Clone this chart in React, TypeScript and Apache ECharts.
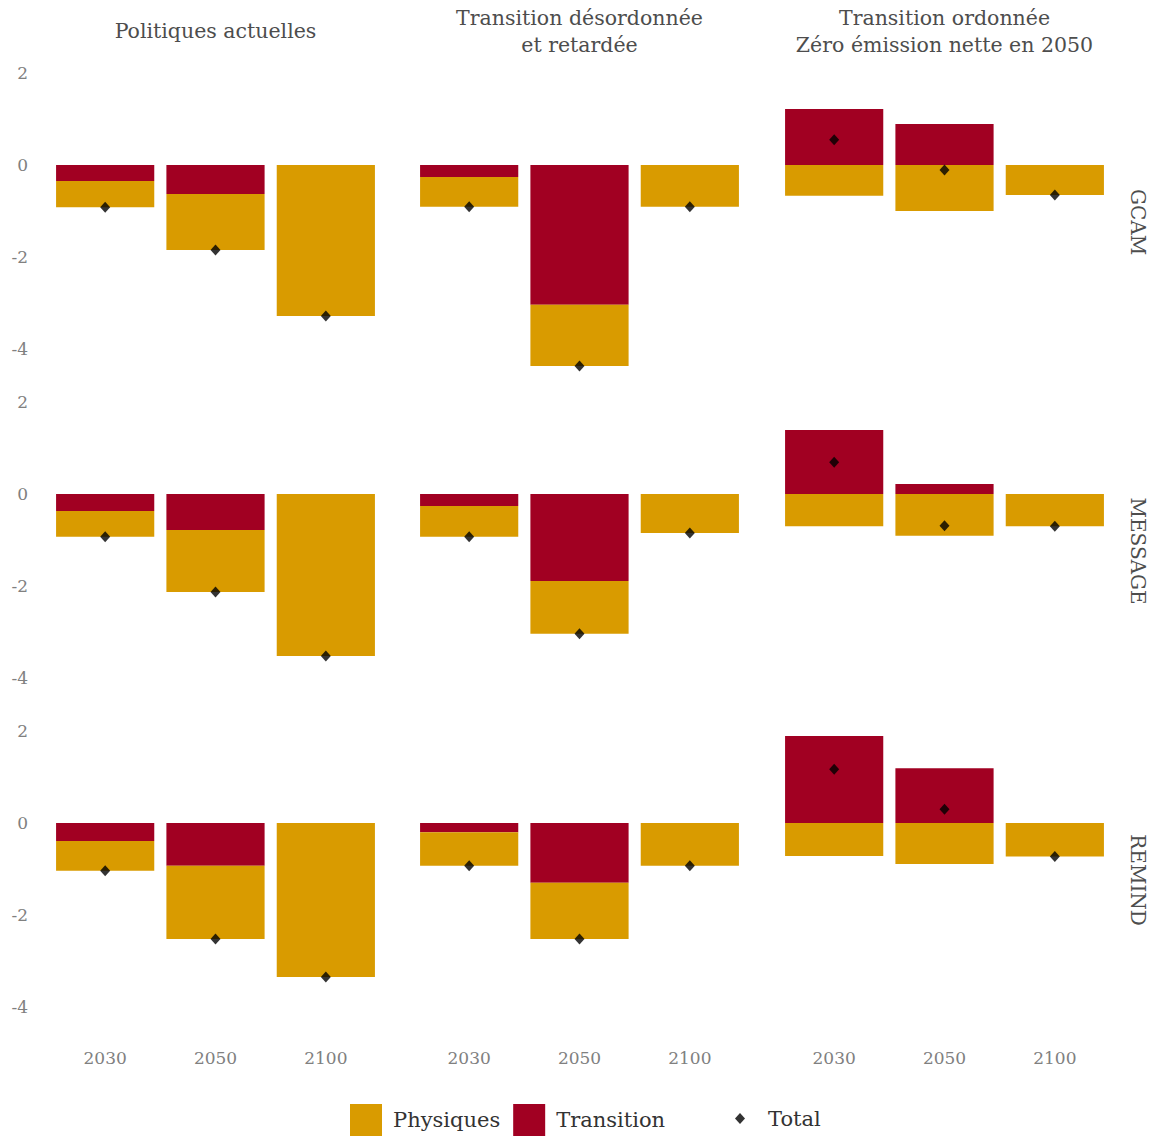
import React, { useEffect, useRef } from "react";
import * as echarts from "echarts";

// Facets: columns are scenarios, rows are models
const years = ["2030", "2050", "2100"];
const scenarios = [
  "Politiques actuelles",
  "Transition désordonnée\net retardée",
  "Transition ordonnée\nZéro émission nette en 2050",
];
const models = ["GCAM", "MESSAGE", "REMIND"];
const yTicks = [-4, -2, 0, 2];

// Transition-risk component, by model then scenario, per year
const transitionGCAM = [[-0.35, -0.63, 0], [-0.26, -3.04, 0], [1.22, 0.89, 0]];
const transitionMESSAGE = [[-0.37, -0.78, 0], [-0.26, -1.89, 0], [1.39, 0.22, 0]];
const transitionREMIND = [[-0.39, -0.93, 0], [-0.2, -1.3, 0], [1.89, 1.19, 0]];

// Physical-risk component
const physiquesGCAM = [[-0.57, -1.22, -3.28], [-0.65, -1.33, -0.91], [-0.67, -1.0, -0.65]];
const physiquesMESSAGE = [[-0.56, -1.35, -3.52], [-0.67, -1.15, -0.85], [-0.7, -0.91, -0.7]];
const physiquesREMIND = [[-0.65, -1.59, -3.35], [-0.73, -1.22, -0.93], [-0.72, -0.89, -0.73]];

// Total impact
const totalGCAM = [[-0.92, -1.85, -3.28], [-0.91, -4.37, -0.91], [0.55, -0.11, -0.65]];
const totalMESSAGE = [[-0.93, -2.13, -3.52], [-0.93, -3.04, -0.85], [0.69, -0.69, -0.7]];
const totalREMIND = [[-1.04, -2.52, -3.35], [-0.93, -2.52, -0.93], [1.17, 0.3, -0.73]];

const transitionByModel = [transitionGCAM, transitionMESSAGE, transitionREMIND];
const physiquesByModel = [physiquesGCAM, physiquesMESSAGE, physiquesREMIND];
const totalByModel = [totalGCAM, totalMESSAGE, totalREMIND];

const ORANGE = "#D99B00";
const RED = "#A10022";
const FONT = "DejaVu Serif";

const colLefts = [50, 414, 779];
const colWidth = 331;
const rowZeros = [165, 494, 823];
const yMin = -4.68;
const yMax = 2.2;
const pxPerUnit = 46;

export default function App() {
  const ref = useRef<HTMLDivElement>(null);

  useEffect(() => {
    if (!ref.current) return;
    const chart = echarts.init(ref.current, null, { renderer: "svg" });

    const grids: any[] = [];
    const xAxes: any[] = [];
    const yAxes: any[] = [];
    const series: any[] = [];

    models.forEach((_, r) => {
      scenarios.forEach((_, c) => {
        const idx = r * 3 + c;
        grids.push({
          left: colLefts[c],
          width: colWidth,
          top: rowZeros[r] - yMax * pxPerUnit,
          height: (yMax - yMin) * pxPerUnit,
        });
        xAxes.push({
          type: "category",
          gridIndex: idx,
          data: years,
          axisLine: { show: false },
          axisTick: { show: false },
          axisLabel: {
            show: r === 2,
            color: "#808080",
            fontFamily: FONT,
            fontSize: 17,
            margin: 11,
          },
        });
        yAxes.push({
          type: "value",
          gridIndex: idx,
          min: yMin,
          max: yMax,
          axisLine: { show: false },
          axisTick: { show: false },
          splitLine: { show: false },
          axisLabel: {
            show: c === 0,
            customValues: yTicks,
            color: "#808080",
            fontFamily: FONT,
            fontSize: 17,
            margin: 22,
          },
        });
        series.push({
          type: "bar",
          name: "Transition",
          xAxisIndex: idx,
          yAxisIndex: idx,
          stack: "s" + idx,
          barWidth: "89%",
          itemStyle: { color: RED },
          data: transitionByModel[r][c],
        });
        series.push({
          type: "bar",
          name: "Physiques",
          xAxisIndex: idx,
          yAxisIndex: idx,
          stack: "s" + idx,
          barWidth: "89%",
          itemStyle: { color: ORANGE },
          data: physiquesByModel[r][c],
        });
        series.push({
          type: "scatter",
          name: "Total",
          xAxisIndex: idx,
          yAxisIndex: idx,
          symbol: "diamond",
          symbolSize: [10, 11],
          itemStyle: { color: "#000" },
          z: 5,
          data: totalByModel[r][c],
        });
      });
    });

    const graphics: any[] = [];
    scenarios.forEach((s, c) => {
      graphics.push({
        type: "text",
        x: colLefts[c] + colWidth / 2,
        y: 31,
        style: {
          text: s,
          fill: "#4d4d4d",
          font: `20.5px "${FONT}"`,
          align: "center",
          verticalAlign: "middle",
          lineHeight: 27,
        },
      });
    });
    models.forEach((m, r) => {
      const mid = rowZeros[r] - yMax * pxPerUnit + ((yMax - yMin) * pxPerUnit) / 2;
      graphics.push({
        type: "text",
        x: 1138,
        y: mid,
        rotation: -Math.PI / 2,
        style: {
          text: m,
          fill: "#4d4d4d",
          font: `20px "${FONT}"`,
          align: "center",
          verticalAlign: "middle",
        },
      });
    });

    chart.setOption({
      animation: false,
      backgroundColor: "#fff",
      grid: grids,
      xAxis: xAxes,
      yAxis: yAxes,
      series,
      graphic: graphics,
      legend: [
        {
          data: ["Physiques", "Transition"],
          left: 350,
          top: 1104,
          padding: 0,
          itemWidth: 32,
          itemHeight: 32,
          itemGap: 13,
          icon: "rect",
          selectedMode: false,
          textStyle: {
            fontFamily: FONT,
            fontSize: 21,
            color: "#333",
            padding: [0, 0, 0, 6],
          },
        },
        {
          data: [{ name: "Total", icon: "diamond" }],
          left: 735,
          top: 1108,
          padding: 0,
          itemWidth: 10,
          itemHeight: 11,
          selectedMode: false,
          textStyle: {
            fontFamily: FONT,
            fontSize: 21,
            color: "#333",
            padding: [0, 0, 0, 18],
          },
        },
      ],
    });

    return () => chart.dispose();
  }, []);

  return (
    <div
      ref={ref}
      style={{ position: "absolute", left: 0, top: 0, width: 1161, height: 1137 }}
    />
  );
}
